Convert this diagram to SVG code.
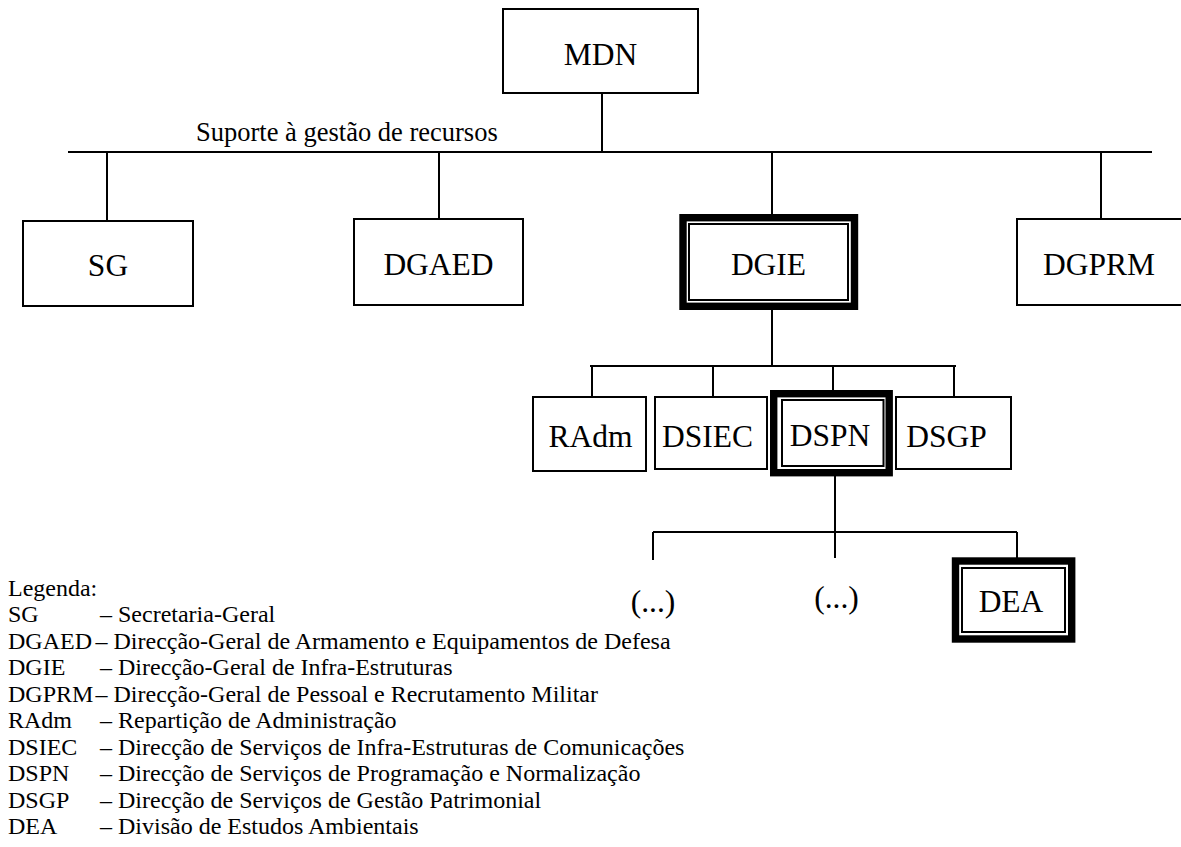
<svg xmlns="http://www.w3.org/2000/svg" width="1181" height="847" viewBox="0 0 1181 847">
<style>
  .box { fill: #fff; stroke: #000; stroke-width: 2; }
  .thick { fill: #fff; stroke: #000; stroke-width: 7.4; }
  .thin { fill: none; stroke: #000; stroke-width: 2; }
  .ln { stroke: #000; stroke-width: 2; fill: none; }
  .lbl { font-family: "Liberation Serif", "Times New Roman", serif; font-size: 31.5px; fill: #000; text-anchor: middle; }
  .sup { font-family: "Liberation Serif", "Times New Roman", serif; font-size: 26.5px; fill: #000; }
  .leg { font-family: "Liberation Serif", "Times New Roman", serif; font-size: 24px; fill: #000; }
</style>
<rect x="0" y="0" width="1181" height="847" fill="#fff"/>
<g id="connectors">
  <line class="ln" x1="602" y1="93" x2="602" y2="152"/>
  <line class="ln" x1="68" y1="152" x2="1152" y2="152"/>
  <line class="ln" x1="107" y1="152" x2="107" y2="221"/>
  <line class="ln" x1="439" y1="152" x2="439" y2="219"/>
  <line class="ln" x1="772" y1="152" x2="772" y2="214"/>
  <line class="ln" x1="1101" y1="152" x2="1101" y2="219"/>
  <line class="ln" x1="772" y1="310" x2="772" y2="366"/>
  <line class="ln" x1="590" y1="366" x2="956" y2="366"/>
  <line class="ln" x1="592" y1="366" x2="592" y2="397"/>
  <line class="ln" x1="713" y1="366" x2="713" y2="397"/>
  <line class="ln" x1="833" y1="366" x2="833" y2="390"/>
  <line class="ln" x1="954" y1="366" x2="954" y2="397"/>
  <line class="ln" x1="835" y1="476" x2="835" y2="532"/>
  <line class="ln" x1="653" y1="532" x2="1017" y2="532"/>
  <line class="ln" x1="653" y1="532" x2="653" y2="560"/>
  <line class="ln" x1="835" y1="532" x2="835" y2="558"/>
  <line class="ln" x1="1017" y1="532" x2="1017" y2="558"/>
</g>
<text class="sup" x="196" y="141">Suporte à gestão de recursos</text>
<g id="MDN">
  <rect class="box" x="503" y="9" width="195" height="84"/>
  <text class="lbl" x="600.5" y="65">MDN</text>
</g>
<g id="SG">
  <rect class="box" x="23" y="221" width="170" height="85"/>
  <text class="lbl" x="108" y="276">SG</text>
</g>
<g id="DGAED">
  <rect class="box" x="354" y="219" width="169" height="86"/>
  <text class="lbl" x="438.5" y="275">DGAED</text>
</g>
<g id="DGIE">
  <rect class="thick" x="683" y="217.7" width="171.5" height="88.6"/>
  <rect class="thin" x="689" y="224" width="159" height="76"/>
  <text class="lbl" x="768.5" y="275">DGIE</text>
</g>
<g id="DGPRM">
  <rect class="box" x="1017" y="219" width="166" height="86"/>
  <text class="lbl" x="1099" y="275">DGPRM</text>
</g>
<g id="RAdm">
  <rect class="box" x="533" y="397" width="113" height="74"/>
  <text class="lbl" x="590.5" y="447">RAdm</text>
</g>
<g id="DSIEC">
  <rect class="box" x="655" y="397" width="112" height="72"/>
  <text class="lbl" x="707.5" y="447">DSIEC</text>
</g>
<g id="DSPN">
  <rect class="thick" x="773.7" y="393.7" width="115.5" height="79"/>
  <rect class="thin" x="782" y="400" width="101.5" height="66"/>
  <text class="lbl" x="830" y="446">DSPN</text>
</g>
<g id="DSGP">
  <rect class="box" x="896" y="397" width="115" height="72"/>
  <text class="lbl" x="946.5" y="447">DSGP</text>
</g>
<g id="etc1">
  <text class="lbl" x="653" y="612">(...)</text>
</g>
<g id="etc2">
  <text class="lbl" x="836.5" y="608">(...)</text>
</g>
<g id="DEA">
  <rect class="thick" x="955.5" y="561" width="116.2" height="78"/>
  <rect class="thin" x="962" y="568" width="103" height="64"/>
  <text class="lbl" x="1011" y="612">DEA</text>
</g>
<g id="legend">
  <text class="leg" x="8" y="596">Legenda:</text>
  <text class="leg" x="8" y="622">SG</text><text class="leg" x="100" y="622">– Secretaria-Geral</text>
  <text class="leg" x="8" y="648.5">DGAED</text><text class="leg" x="95.5" y="648.5">– Direcção-Geral de Armamento e Equipamentos de Defesa</text>
  <text class="leg" x="8" y="675">DGIE</text><text class="leg" x="100" y="675">– Direcção-Geral de Infra-Estruturas</text>
  <text class="leg" x="8" y="701.5">DGPRM</text><text class="leg" x="95.5" y="701.5">– Direcção-Geral de Pessoal e Recrutamento Militar</text>
  <text class="leg" x="8" y="728">RAdm</text><text class="leg" x="100" y="728">– Repartição de Administração</text>
  <text class="leg" x="8" y="754.5">DSIEC</text><text class="leg" x="100" y="754.5">– Direcção de Serviços de Infra-Estruturas de Comunicações</text>
  <text class="leg" x="8" y="781">DSPN</text><text class="leg" x="100" y="781">– Direcção de Serviços de Programação e Normalização</text>
  <text class="leg" x="8" y="807.5">DSGP</text><text class="leg" x="100" y="807.5">– Direcção de Serviços de Gestão Patrimonial</text>
  <text class="leg" x="8" y="834">DEA</text><text class="leg" x="100" y="834">– Divisão de Estudos Ambientais</text>
</g>
</svg>
